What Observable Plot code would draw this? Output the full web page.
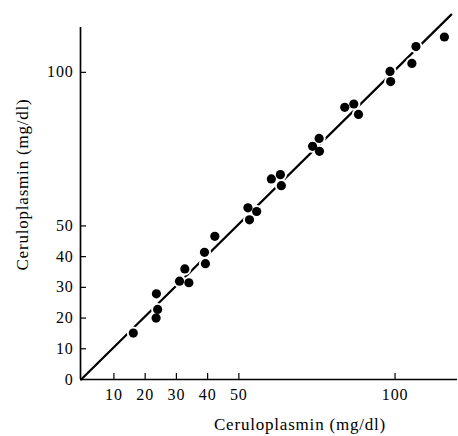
<!DOCTYPE html>
<html>
<head>
<meta charset="utf-8">
<script src="https://cdn.jsdelivr.net/npm/d3@7"></script>
<script src="https://cdn.jsdelivr.net/npm/@observablehq/plot@0.6"></script>
<style>
  html, body { margin: 0; padding: 0; background: #fff; }
  svg { font-family: "Liberation Serif", "DejaVu Serif", serif; }
</style>
</head>
<body>
<div id="chart"></div>
<script>
// Scatter values (x, y), mg/dl
const xValues = [16.2, 23.6, 24.0, 23.5, 31.0, 34.0, 32.7, 39.0, 39.3, 42.3,
  52.9, 55.7, 53.4, 60.4, 63.3, 63.6, 73.6, 75.7, 75.8, 83.9,
  86.8, 88.3, 98.4, 98.6, 105.4, 106.7, 115.8];
const yValues = [15.1, 27.9, 22.8, 20.0, 32.0, 31.5, 36.0, 41.4, 37.7, 46.6,
  55.9, 54.7, 52.0, 65.3, 66.7, 63.1, 75.9, 78.5, 74.3, 88.6,
  89.7, 86.3, 100.3, 97.0, 102.9, 108.4, 111.5];
// Identity-like reference line
const lineX = [-0.5, 118];
const lineY = [0, 118.8];
// Tick labels
const xTicks = [10, 20, 30, 40, 50, 100];
const yTicks = [0, 10, 20, 30, 40, 50, 100];
const axisTitle = "Ceruloplasmin (mg/dl)";

const points = xValues.map((x, i) => ({x, y: yValues[i]}));
const line = lineX.map((x, i) => ({x, y: lineY[i]}));

const W = 458, H = 436, ML = 80, MR = 1, MT = 27, MB = 57;
const plotW = W - ML - MR, plotH = H - MT - MB;

const chart = Plot.plot({
  width: W,
  height: H,
  marginLeft: ML,
  marginRight: MR,
  marginTop: MT,
  marginBottom: MB,
  style: {fontFamily: "Liberation Serif, serif", fontSize: "16px", color: "#000", background: "#fff", letterSpacing: "0.8px"},
  x: {domain: [-0.7, 120]},
  y: {domain: [0, 114.6]},
  marks: [
    Plot.ruleX([-0.7], {stroke: "#000", strokeWidth: 1.7}),
    Plot.ruleY([0], {stroke: "#000", strokeWidth: 1.6}),
    Plot.tickX(xTicks, {x: d => d, stroke: "#000", strokeWidth: 1.2, insetTop: plotH - 6}),
    Plot.tickY(yTicks.filter(d => d > 0), {y: d => d, stroke: "#000", strokeWidth: 1.2, insetRight: plotW - 6}),
    Plot.axisX(xTicks, {tickSize: 0, tickPadding: 9, label: null, fontSize: 16, fill: "#000"}),
    Plot.axisY(yTicks, {tickSize: 0, tickPadding: 7, label: null, fontSize: 16, fill: "#000"}),
    Plot.line(line, {x: "x", y: "y", stroke: "#000", strokeWidth: 2.2}),
    Plot.dot(points, {x: "x", y: "y", r: 6.5, fill: "#fff", stroke: "none"}),
    Plot.dot(points, {x: "x", y: "y", r: 4.6, fill: "#000", stroke: "none"}),
    Plot.text([axisTitle], {text: d => d, frameAnchor: "bottom", textAnchor: "middle", lineAnchor: "middle", dx: 31, dy: 45, fontSize: 17, fill: "#000"}),
    Plot.text([axisTitle], {text: d => d, frameAnchor: "left", textAnchor: "middle", lineAnchor: "middle", dx: -58, dy: -19, rotate: -90, fontSize: 17, fill: "#000"})
  ]
});
document.getElementById("chart").appendChild(chart);
</script>
</body>
</html>
